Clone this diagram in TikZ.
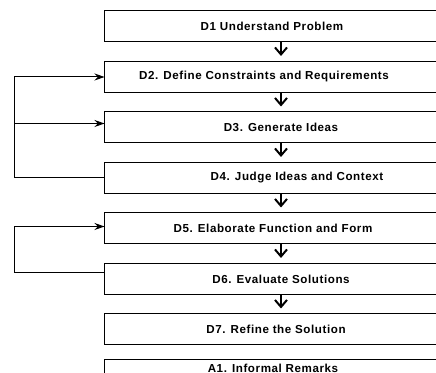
\documentclass[tikz,border=0pt]{standalone}
\usepackage{fontspec}
\setmainfont{Liberation Sans}[LetterSpace=5]
\usetikzlibrary{positioning,arrows.meta}

\tikzset{
  stagebox/.style={draw, line width=0.5pt, minimum width=176pt, minimum height=15.5pt, inner sep=0pt,
    font=\fontsize{5.8}{7}\selectfont\bfseries},
  nudge/.style={execute at begin node={\hspace*{#1}}},
  downarrow/.style={-{Straight Barb[length=3.5pt,width=6pt]}, line width=1pt, shorten >=2.5pt},
  backarrow/.style={-{Stealth[length=5pt,width=3.5pt]}, line width=0.5pt},
}

\begin{document}
\begin{tikzpicture}
\useasboundingbox (0,0) rectangle (218pt,-186.5pt);
\clip (0,0) rectangle (218pt,-186.5pt);

\node[stagebox, nudge=-9pt] (D1) at (140.5pt,-13.25pt) {D1 Understand Problem};
\node[stagebox, nudge=-17pt, below=9.25pt of D1] (D2) {D2. Define Constraints and Requirements};
\node[stagebox, below=9.25pt of D2] (D3) {D3. Generate Ideas};
\node[stagebox, nudge=16pt, below=9.25pt of D3] (D4) {D4. Judge Ideas and Context};
\node[stagebox, nudge=-8pt, below=9.25pt of D4] (D5) {D5. Elaborate Function and Form};
\node[stagebox, below=9.25pt of D5] (D6) {D6. Evaluate Solutions};
\node[stagebox, nudge=-5pt, below=9.25pt of D6] (D7) {D7. Refine the Solution};
\node[stagebox, nudge=-8pt, text depth=7pt, below=7pt of D7] (A1) {A1. Informal Remarks};

\draw[downarrow] (D1) -- (D2);
\draw[downarrow] (D2) -- (D3);
\draw[downarrow] (D3) -- (D4);
\draw[downarrow] (D4) -- (D5);
\draw[downarrow] (D5) -- (D6);
\draw[downarrow] (D6) -- (D7);

\coordinate (railA) at (7.25pt,0);
\coordinate (railB) at (7.5pt,0);
\draw[backarrow] (D4.west) -- (D4.west -| railA) |- (D2.west);
\draw[backarrow] ([yshift=2pt]D3.west -| railA) -- ([yshift=2pt]D3.west);
\draw[backarrow] ([yshift=3.25pt]D6.west) -- ([yshift=3.25pt]D6.west -| railB) |- ([yshift=1pt]D5.west);
\end{tikzpicture}
\end{document}
